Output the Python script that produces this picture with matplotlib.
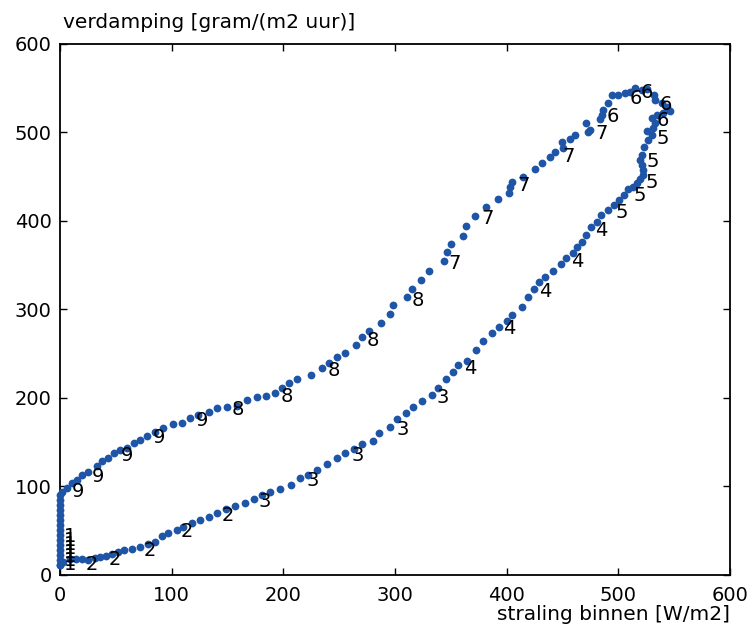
import matplotlib
matplotlib.use("Agg")
import matplotlib.pyplot as plt

# --- DATA ---
# straling binnen [W/m2] and verdamping [gram/(m2 uur)], in plot order
straling = [
    0, 2.7, 9.0, 14.3, 19.7, 25.1, 31.3, 35.8, 41.2, 46.6, 51.9, 57.3, 64.5, 71.6,
    78.8, 85.1, 91.3, 96.7, 104.8, 110.1, 118.2, 125.3, 133.4, 140.6, 148.6, 156.7,
    165.6, 173.7, 180.9, 188.0, 197.0, 206.5, 214.9, 222.3, 229.8, 238.8, 248.3,
    255.2, 263.2, 270.6, 280.5, 285.9, 295.4, 302.0, 309.8, 316.3, 323.8, 332.8,
    338.7, 345.3, 352.1, 356.6, 364.7, 372.2, 378.4, 386.5, 393.0, 399.9, 404.4,
    413.4, 419.3, 424.4, 429.1, 434.2, 441.7, 448.3, 452.8, 459.0, 462.6, 467.1,
    470.7, 475.1, 480.5, 484.4, 490.9, 496.0, 500.7, 505.0, 508.8, 512.7, 516.3,
    519.3, 521.7, 521.7, 520.8, 519.3, 520.8, 522.9, 526.7, 529.8, 525.3, 530.7,
    532.7, 529.8, 534.2, 540.1, 546.1, 543.2, 538.7, 532.7, 531.8, 525.3, 520.8,
    514.8, 510.3, 505.8, 499.8, 493.9,
    490.9, 486.4, 485.0, 483.5, 470.9, 474.5, 473.0, 461.1, 456.6, 449.2, 450.6,
    443.2, 438.7, 431.3, 425.3, 414.8, 405.0, 402.9, 402.0, 392.4, 381.4, 371.8,
    363.5, 360.5, 349.8, 346.8, 343.8, 330.4, 323.2, 314.9, 310.7, 298.1, 295.4,
    287.1, 276.9, 270.4, 265.0, 255.4, 248.3, 241.1, 234.6, 225.0, 212.2, 205.3,
    198.5, 192.9, 184.4, 176.1, 167.9, 158.2, 149.2, 140.3, 133.4, 123.8, 116.4,
    109.0, 101.4, 92.5, 85.1, 77.6, 71.6, 66.3, 59.7, 53.7, 48.6, 43.2, 37.3, 32.9,
    25.3, 19.4, 15.0, 10.5, 6.0, 2.1, 0,
    0, 0, 0, 0, 0, 0, 0, 0, 0, 0, 0, 0, 0, 0,
]
verdamping = [
    11.5, 14.7, 17.5, 17.5, 18.1, 16.9, 19.2, 20.3, 21.4, 23.7, 26.0, 27.7, 29.3,
    31.9, 35.0, 37.2, 44.0, 47.4, 50.8, 54.2, 58.7, 62.1, 65.8, 70.3, 74.2, 77.9,
    81.6, 85.8, 90.3, 93.7, 97.1, 101.6, 109.1, 112.9, 118.5, 124.9, 131.7, 137.4,
    141.9, 147.5, 151.2, 159.9, 166.7, 175.7, 182.5, 189.3, 196.7, 203.2, 210.7,
    220.9, 229.5, 237.0, 241.9, 254.0, 264.5, 272.8, 280.3, 287.0, 293.5, 302.8,
    313.4, 322.5, 331.0, 336.0, 343.5, 350.7, 357.5, 363.1, 369.9, 376.2, 383.8,
    393.1, 398.8, 406.3, 411.9, 417.6, 423.2, 428.9, 435.3, 438.3, 442.8, 446.6,
    451.5, 457.1, 462.8, 468.4, 474.1, 483.4, 491.0, 496.6, 501.5, 504.2, 509.8,
    515.5, 519.2, 521.1, 523.7, 528.6, 532.4, 536.1, 541.8, 548.2, 547.4, 549.3,
    545.5, 543.7, 541.8, 541.8,
    532.4, 524.8, 519.2, 514.3, 509.8, 502.3, 500.3, 496.6, 491.8, 489.1, 482.3,
    477.1, 471.5, 464.7, 457.9, 448.9, 443.9, 437.6, 430.8, 424.0, 415.7, 405.2,
    394.3, 382.6, 373.6, 364.6, 354.4, 343.5, 333.0, 322.5, 313.8, 305.1, 294.6,
    284.1, 275.4, 268.3, 259.6, 250.9, 245.7, 239.3, 233.3, 226.3, 221.0, 216.4,
    211.1, 205.4, 202.0, 200.9, 197.5, 190.8, 189.3, 188.2, 184.3, 180.6, 176.9,
    171.2, 170.1, 165.6, 161.7, 156.9, 152.4, 148.6, 143.7, 141.1, 137.4, 132.4,
    129.0, 123.0, 116.6, 112.9, 107.2, 103.5, 97.9, 94.0, 90.3,
    84.7, 79.0, 73.4, 67.7, 62.1, 56.4, 50.8, 45.1, 39.5, 33.9, 28.2, 22.6, 16.9,
    11.3,
]

# hour labels written next to the points
label_text = (["1"] * 8 + ["2"] * 5 + ["3"] * 5 + ["4"] * 5 + ["5"] * 5
              + ["6"] * 5 + ["7"] * 5 + ["8"] * 5 + ["9"] * 5)
label_x = [
    9.0, 9.0, 9.0, 9.0, 9.0, 9.0, 9.0, 9.0,
    28.9, 49.2, 80.6, 113.4, 150.7,
    183.5, 225.9, 266.2, 306.5, 342.6,
    367.1, 402.0, 434.2, 463.1, 485.0,
    502.9, 519.3, 529.8, 531.2, 540.1,
    539.6, 542.6, 525.3, 515.7, 495.4,
    485.0, 455.1, 415.4, 382.6, 353.6,
    320.1, 280.0, 245.3, 203.5, 159.1,
    126.9, 88.6, 59.7, 34.3, 16.4,
]
label_y = [
    43.0, 38.5, 34.0, 29.5, 25.0, 20.5, 16.0, 11.5,
    12.4, 17.7, 28.2, 48.9, 67.7,
    82.7, 106.4, 134.7, 164.5, 200.1,
    233.3, 278.8, 319.8, 354.4, 389.4,
    408.9, 428.9, 442.8, 466.5, 492.9,
    512.8, 531.6, 544.4, 538.0, 517.3,
    498.5, 472.9, 440.2, 402.6, 351.8,
    310.4, 265.2, 230.3, 202.0, 187.0,
    174.9, 155.0, 135.4, 111.7, 94.0,
]

ticks = [0, 100, 200, 300, 400, 500, 600]

# --- PLOT ---
plt.rcParams['font.family'] = ['DejaVu Sans']
fig = plt.figure(figsize=(7.54, 6.30), dpi=100)
ax = fig.add_axes([60 / 754, 55 / 630, 670 / 754, 531.5 / 630])

ax.plot(straling, verdamping, 'o', color='#1f55a6', markersize=5.6,
        markeredgewidth=0, clip_on=False, zorder=3)

for t, x, y in zip(label_text, label_x, label_y):
    ax.text(x, y, t, fontsize=14, ha='center', va='center', color='black', zorder=4)

ax.set_xlim(0, 600)
ax.set_ylim(0, 600)
ax.set_xticks(ticks)
ax.set_yticks(ticks)
ax.tick_params(axis='both', direction='in', top=True, right=True, length=5,
               width=1, labelsize=14)
ax.tick_params(axis='x', pad=8)
ax.tick_params(axis='y', pad=6)
for s in ax.spines.values():
    s.set_linewidth(1.3)

ax.text(0.005, 1.022, 'verdamping [gram/(m2 uur)]', transform=ax.transAxes,
        fontsize=14.5, ha='left', va='bottom')
ax.text(1.0, -0.056, 'straling binnen [W/m2]', transform=ax.transAxes,
        fontsize=14.5, ha='right', va='top')

fig.savefig('out.png', dpi=100)
